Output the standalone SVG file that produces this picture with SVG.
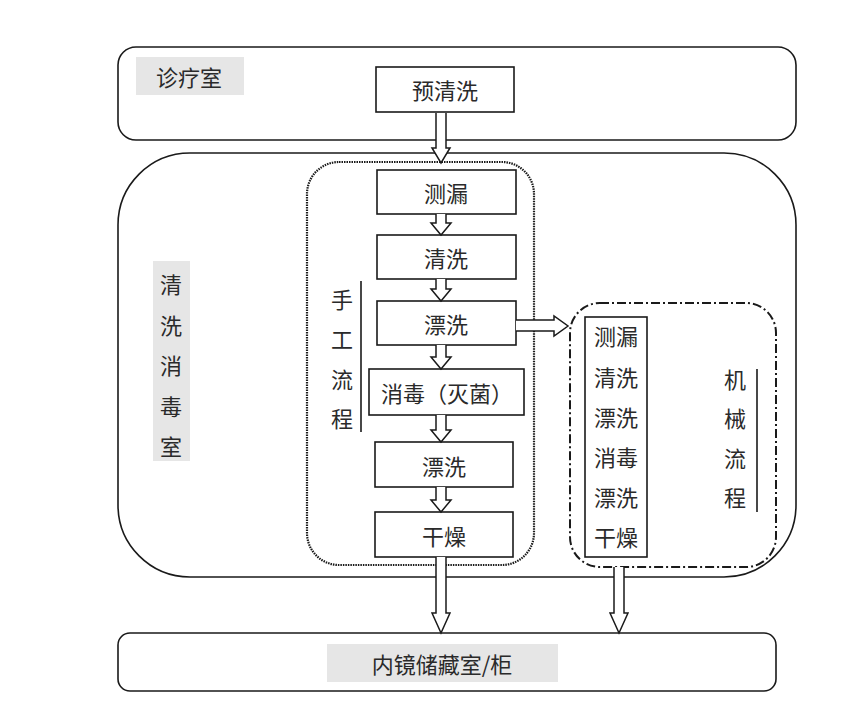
<svg xmlns="http://www.w3.org/2000/svg" width="867" height="712" viewBox="0 0 867 712">
<style>
  .room{fill:#fff;stroke:#1a1a1a;stroke-width:1.6}
  .box{fill:#fff;stroke:#1a1a1a;stroke-width:1.6}
  .lbl{fill:#e6e6e6}
  .t{font-family:"Noto Sans CJK SC","Liberation Sans",sans-serif;font-size:22px;fill:#2a2a2a;text-anchor:middle;dominant-baseline:central}
  .arr{fill:#fff;stroke:#1a1a1a;stroke-width:1.5;stroke-linejoin:miter}
  .vline{stroke:#1a1a1a;stroke-width:1.6}
</style>
<rect width="867" height="712" fill="#fff"/>

<g id="clinic">
  <rect class="room" x="118" y="47" width="678" height="93" rx="18"/>
  <rect class="lbl" x="136" y="57" width="108" height="38"/>
  <text class="t" x="189" y="76">诊疗室</text>
</g>

<g id="washroom">
  <rect class="room" x="118" y="153" width="678" height="424" rx="72"/>
  <rect class="lbl" x="153" y="261" width="37" height="200"/>
  <text class="t" x="171" y="283">清</text>
  <text class="t" x="171" y="324">洗</text>
  <text class="t" x="171" y="364">消</text>
  <text class="t" x="171" y="405">毒</text>
  <text class="t" x="171" y="445">室</text>
</g>

<g id="storage">
  <rect class="room" x="118" y="633" width="658" height="58" rx="12"/>
  <rect class="lbl" x="327" y="644" width="231" height="38"/>
  <text class="t" x="442" y="663">内镜储藏室/柜</text>
</g>

<g id="manual">
  <rect x="307" y="162" width="227" height="403" rx="32" fill="none" stroke="#1a1a1a" stroke-width="2.2" stroke-dasharray="1.5 1"/>
  <text class="t" x="342" y="298">手</text>
  <text class="t" x="342" y="338">工</text>
  <text class="t" x="342" y="378">流</text>
  <text class="t" x="342" y="417">程</text>
  <line class="vline" x1="361" y1="281" x2="361" y2="432"/>
</g>

<g id="pre-wash">
  <rect class="box" x="376" y="67" width="138" height="45"/>
  <text class="t" x="445" y="89">预清洗</text>
</g>
<g id="leak-test">
  <rect class="box" x="377" y="170" width="139" height="44"/>
  <text class="t" x="446" y="192">测漏</text>
</g>
<g id="wash">
  <rect class="box" x="377" y="235" width="139" height="44"/>
  <text class="t" x="446" y="257">清洗</text>
</g>
<g id="rinse1">
  <rect class="box" x="377" y="301" width="139" height="44"/>
  <text class="t" x="446" y="323">漂洗</text>
</g>
<g id="disinfect">
  <rect class="box" x="369" y="369" width="155" height="46"/>
  <text class="t" x="447" y="392">消毒（灭菌）</text>
</g>
<g id="rinse2">
  <rect class="box" x="375" y="442" width="138" height="45"/>
  <text class="t" x="444" y="465">漂洗</text>
</g>
<g id="dry">
  <rect class="box" x="375" y="512" width="138" height="45"/>
  <text class="t" x="444" y="535">干燥</text>
</g>

<g id="machine">
  <rect x="570" y="303" width="206" height="264" rx="30" fill="none" stroke="#1a1a1a" stroke-width="2" stroke-dasharray="9 3 2 3"/>
  <rect class="box" x="585" y="317" width="62" height="240"/>
  <text class="t" x="616" y="335">测漏</text>
  <text class="t" x="616" y="376">清洗</text>
  <text class="t" x="616" y="416">漂洗</text>
  <text class="t" x="616" y="456">消毒</text>
  <text class="t" x="616" y="496">漂洗</text>
  <text class="t" x="616" y="536">干燥</text>
  <text class="t" x="735" y="378">机</text>
  <text class="t" x="735" y="417">械</text>
  <text class="t" x="735" y="457">流</text>
  <text class="t" x="735" y="496">程</text>
  <line class="vline" x1="757" y1="369" x2="757" y2="512"/>
</g>

<g id="connectors">
  <path class="arr" d="M436,113 V148 H432 L441,163 L450,148 H446 V113"/>
  <path class="arr" d="M436,214 V223 H431 L441,235 L451,223 H446 V214"/>
  <path class="arr" d="M436,279 V289 H431 L441,301 L451,289 H446 V279"/>
  <path class="arr" d="M436,345 V357 H431 L441,369 L451,357 H446 V345"/>
  <path class="arr" d="M436,415 V430 H431 L441,442 L451,430 H446 V415"/>
  <path class="arr" d="M436,487 V500 H431 L441,512 L451,500 H446 V487"/>
  <path class="arr" d="M516,320 H554 V316 L568,326 L554,336 V331 H516"/>
  <path class="arr" d="M436,557 V613 H432 L441,633 L450,613 H446 V557"/>
  <path class="arr" d="M614,567 V613 H610 L619,633 L628,613 H624 V567"/>
</g>
</svg>
